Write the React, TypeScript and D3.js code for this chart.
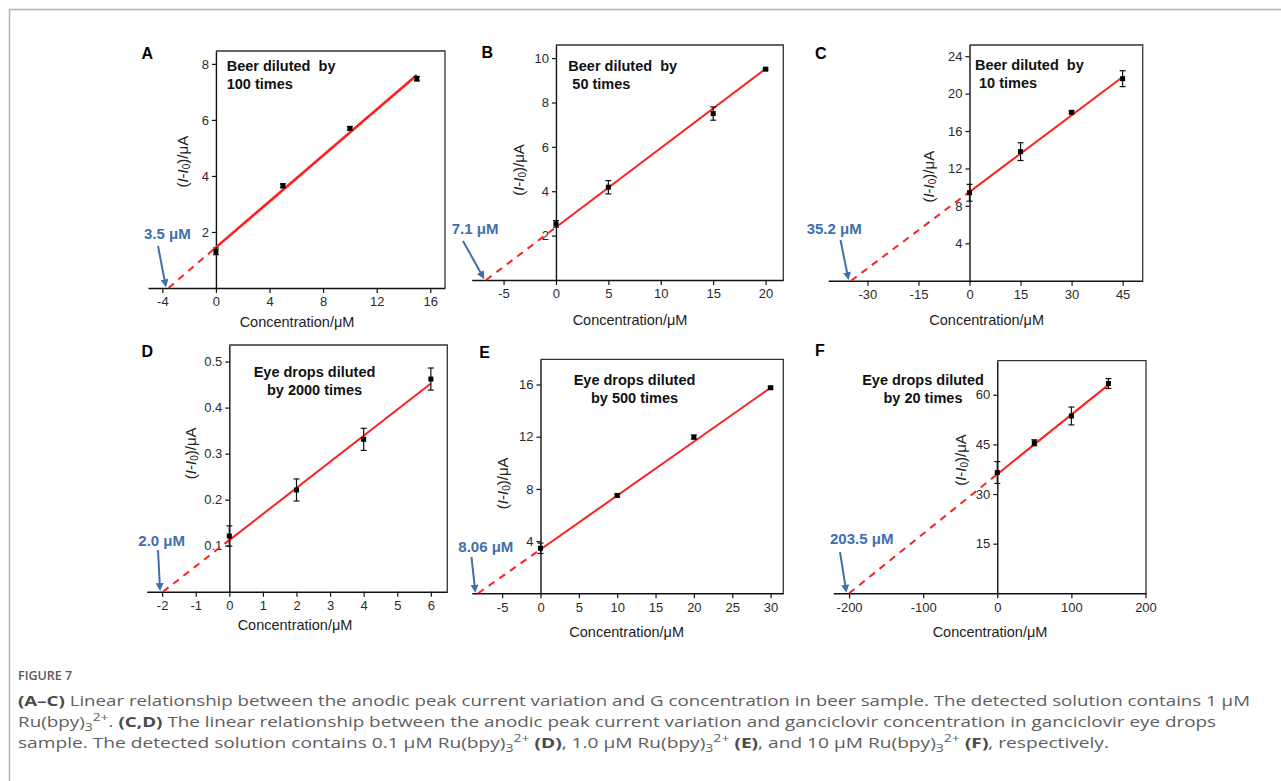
import React, { useEffect, useRef } from 'react';
import * as d3 from 'd3';

// (A) beer diluted 100 times
const concA = [0, 5, 10, 15];
const currA = [1.31, 3.65, 5.7, 7.47];
const errA = [0.12, 0.07, 0.06, 0.08];
// (B) beer diluted 50 times
const concB = [0, 5, 15, 20];
const currB = [2.53, 4.18, 7.5, 9.5];
const errB = [0.15, 0.3, 0.3, 0.05];
// (C) beer diluted 10 times
const concC = [0, 15, 30, 45];
const currC = [9.4, 13.8, 18.0, 21.6];
const errC = [0.9, 0.95, 0.15, 0.85];
// (D) eye drops diluted 2000 times
const concD = [0, 2, 4, 6];
const currD = [0.121, 0.221, 0.331, 0.462];
const errD = [0.022, 0.024, 0.024, 0.024];
// (E) eye drops diluted 500 times
const concE = [0, 10, 20, 30];
const currE = [3.45, 7.5, 11.97, 15.75];
const errE = [0.4, 0.1, 0.15, 0.1];
// (F) eye drops diluted 20 times
const concF = [0, 50, 100, 150];
const currF = [36.5, 45.5, 53.6, 63.4];
const errF = [3.3, 0.9, 2.7, 1.5];

// fitted lines: intercept and slope, extrapolated to the x axis
const fitIntercepts = [1.45, 2.38, 9.5, 0.112, 3.36, 36];
const fitSlopes = [0.41, 0.357, 0.273, 0.0567, 0.413, 0.18];
const detectLabels = ['3.5 μM', '7.1 μM', '35.2 μM', '2.0 μM', '8.06 μM', '203.5 μM'];
const panelLetters = ['A', 'B', 'C', 'D', 'E', 'F'];
const noteLines = [
  ['Beer diluted  by', '100 times'],
  ['Beer diluted  by', ' 50 times'],
  ['Beer diluted  by', ' 10 times'],
  ['Eye drops diluted', 'by 2000 times'],
  ['Eye drops diluted', 'by 500 times'],
  ['Eye drops diluted', 'by 20 times'],
];

const xTicksA = [-4, 0, 4, 8, 12, 16];
const yTicksA = [2, 4, 6, 8];
const xTicksB = [-5, 0, 5, 10, 15, 20];
const yTicksB = [2, 4, 6, 8, 10];
const xTicksC = [-30, -15, 0, 15, 30, 45];
const yTicksC = [4, 8, 12, 16, 20, 24];
const xTicksD = [-2, -1, 0, 1, 2, 3, 4, 5, 6];
const yTicksD = [0.1, 0.2, 0.3, 0.4, 0.5];
const xTicksE = [-5, 0, 5, 10, 15, 20, 25, 30];
const yTicksE = [4, 8, 12, 16];
const xTicksF = [-200, -100, 0, 100, 200];
const yTicksF = [15, 30, 45, 60];

const captionLines = [
  [{ t: '(A–C)', b: true }, { t: ' Linear relationship between the anodic peak current variation and G concentration in beer sample. The detected solution contains 1 μM' }],
  [{ t: 'Ru(bpy)' }, { t: '3', sub: true }, { t: '2+', sup: true }, { t: '. ' }, { t: '(C,D)', b: true }, { t: ' The linear relationship between the anodic peak current variation and ganciclovir concentration in ganciclovir eye drops' }],
  [{ t: 'sample. The detected solution contains 0.1 μM Ru(bpy)' }, { t: '3', sub: true }, { t: '2+', sup: true }, { t: ' ' }, { t: '(D)', b: true },
    { t: ', 1.0 μM Ru(bpy)' }, { t: '3', sub: true }, { t: '2+', sup: true }, { t: ' ' }, { t: '(E)', b: true },
    { t: ', and 10 μM Ru(bpy)' }, { t: '3', sub: true }, { t: '2+', sup: true }, { t: ' ' }, { t: '(F)', b: true }, { t: ', respectively.' }],
];

const panels = [
  { conc: concA, curr: currA, err: errA, xTicks: xTicksA, yTicks: yTicksA, xDomain: [-5.07, 17.1], yDomain: [0, 8.46],
    box: { left: 148, right: 445, top: 51, bottom: 288 }, letter: [141.5, 59], note: [226.7, 71, 'start'],
    label: [144, 239], arrowFrom: [158, 246], xTitle: [297, 327], yTitle: [181.7, 161.7], lw: 2.6 },
  { conc: concB, curr: currB, err: errB, xTicks: xTicksB, yTicks: yTicksB, xDomain: [-8.04, 21.69], yDomain: [0, 10.59],
    box: { left: 471.7, right: 783.3, top: 45, bottom: 280 }, letter: [481.5, 58], note: [568.3, 71, 'start'],
    label: [451.7, 234], arrowFrom: [463, 241], xTitle: [630, 325], yTitle: [518.3, 170], lw: 2 },
  { conc: concC, curr: currC, err: errC, xTicks: xTicksC, yTicks: yTicksC, xDomain: [-41.5, 50.9], yDomain: [0, 25.2],
    box: { left: 828.3, right: 1142.7, top: 45, bottom: 280.7 }, letter: [815, 59], note: [975, 69.5, 'start'],
    label: [806.7, 234], arrowFrom: [840.5, 240], xTitle: [986.7, 325], yTitle: [928.3, 176.7], lw: 2 },
  { conc: concD, curr: currD, err: errD, xTicks: xTicksD, yTicks: yTicksD, xDomain: [-2.46, 6.49], yDomain: [0, 0.536],
    box: { left: 146.7, right: 447.3, top: 345, bottom: 591.7 }, letter: [141.5, 357], note: [314.5, 377, 'middle'],
    label: [138.3, 545.5], arrowFrom: [158, 550], xTitle: [295, 630], yTitle: [190, 453.3], lw: 2 },
  { conc: concE, curr: currE, err: errE, xTicks: xTicksE, yTicks: yTicksE, xDomain: [-8.97, 31.66], yDomain: [0, 17.93],
    box: { left: 471.7, right: 783.3, top: 359.3, bottom: 593.3 }, letter: [479.3, 358], note: [634.5, 384.5, 'middle'],
    label: [458.3, 552], arrowFrom: [471.5, 557], xTitle: [626.7, 637], yTitle: [501.7, 483.3], lw: 2 },
  { conc: concF, curr: currF, err: errF, xTicks: xTicksF, yTicks: yTicksF, xDomain: [-221.3, 200.7], yDomain: [0, 70.3],
    box: { left: 833.3, right: 1146, top: 360.7, bottom: 593.3 }, letter: [815, 356], note: [923, 384.5, 'middle'],
    label: [830, 544], arrowFrom: [840, 552], xTitle: [990, 637], yTitle: [960, 460], lw: 2 },
];

const FONT = '"Liberation Sans", Arial, sans-serif';
const BLUE = '#3f6fad';
const RED = '#ff1f1f';

const App = () => {
  const svgRef = useRef<SVGSVGElement>(null);

  useEffect(() => {
    const W = 1281;
    const H = 781;
    const svg = d3.select(svgRef.current);
    svg.selectAll('*').remove();
    svg.attr('width', W).attr('height', H);

    svg.append('rect').attr('width', W).attr('height', H).attr('fill', '#fff');
    svg.append('path')
      .attr('d', `M9.5,${H} V9.5 H${W}`)
      .attr('fill', 'none')
      .attr('stroke', '#b3b3b3')
      .attr('stroke-width', 1.5);

    svg.append('defs').append('marker')
      .attr('id', 'arrowHead')
      .attr('viewBox', '0 0 10 10')
      .attr('refX', 7).attr('refY', 5)
      .attr('markerWidth', 4).attr('markerHeight', 4)
      .attr('orient', 'auto')
      .append('path').attr('d', 'M0,0 L10,5 L0,10 z').attr('fill', BLUE);

    panels.forEach((p, i) => {
      const g = svg.append('g');
      const x = d3.scaleLinear().domain(p.xDomain).range([p.box.left, p.box.right]);
      const y = d3.scaleLinear().domain(p.yDomain).range([p.box.bottom, p.box.top]);
      const x0 = x(0);

      // top + right frame
      g.append('path')
        .attr('d', `M${x0},${p.box.top} H${p.box.right} V${p.box.bottom}`)
        .attr('fill', 'none')
        .attr('stroke', '#333')
        .attr('stroke-width', 1.3);

      const xAxis = g.append('g')
        .attr('transform', `translate(0,${p.box.bottom})`)
        .call(d3.axisBottom(x).tickValues(p.xTicks).tickSize(5).tickPadding(4).tickSizeOuter(0).tickFormat(d => String(d)));
      const yAxis = g.append('g')
        .attr('transform', `translate(${x0},0)`)
        .call(d3.axisLeft(y).tickValues(p.yTicks).tickSize(4).tickPadding(3).tickSizeOuter(0).tickFormat(d => String(d)));

      [xAxis, yAxis].forEach(a => {
        a.attr('font-family', FONT).attr('font-size', 13);
        a.select('.domain').attr('stroke', '#111').attr('stroke-width', 1.4);
        a.selectAll('.tick line').attr('stroke', '#111').attr('stroke-width', 1.2);
        a.selectAll('.tick text').attr('fill', '#2a2a2a');
      });

      // fitted line, dashed extrapolation down to the x axis
      const b = fitIntercepts[i];
      const m = fitSlopes[i];
      const xInt = -b / m;
      const last = p.conc[p.conc.length - 1];
      const line = d3.line<number[]>().x(d => x(d[0])).y(d => y(d[1]));
      g.append('path')
        .attr('d', line([[xInt, 0], [0, b]]))
        .attr('fill', 'none').attr('stroke', RED).attr('stroke-width', 2)
        .attr('stroke-dasharray', '7,6');
      g.append('path')
        .attr('d', line([[0, b], [last, b + m * last]]))
        .attr('fill', 'none').attr('stroke', RED).attr('stroke-width', p.lw);

      // error bars + square markers
      const pts = p.conc.map((c, k) => ({ c, v: p.curr[k], e: p.err[k] }));
      const eb = g.selectAll('.eb').data(pts).enter().append('g').attr('class', 'eb');
      eb.append('line')
        .attr('x1', d => x(d.c)).attr('x2', d => x(d.c))
        .attr('y1', d => y(d.v - d.e)).attr('y2', d => y(d.v + d.e))
        .attr('stroke', '#111').attr('stroke-width', 1.2);
      [-1, 1].forEach(s => {
        eb.append('line')
          .attr('x1', d => x(d.c) - 3).attr('x2', d => x(d.c) + 3)
          .attr('y1', d => y(d.v + s * d.e)).attr('y2', d => y(d.v + s * d.e))
          .attr('stroke', '#111').attr('stroke-width', 1.2);
      });
      eb.append('rect')
        .attr('x', d => x(d.c) - 2.5).attr('y', d => y(d.v) - 2.5)
        .attr('width', 5).attr('height', 5)
        .attr('fill', '#000');

      // panel letter
      g.append('text')
        .attr('x', p.letter[0]).attr('y', p.letter[1])
        .attr('font-family', FONT).attr('font-weight', 'bold').attr('font-size', 16)
        .attr('fill', '#000')
        .text(panelLetters[i]);

      // note text
      const note = g.append('text')
        .attr('font-family', FONT).attr('font-weight', 'bold').attr('font-size', 14.5)
        .attr('fill', '#111')
        .attr('text-anchor', p.note[2] as string)
        .style('white-space', 'pre');
      noteLines[i].forEach((t, k) => {
        note.append('tspan').attr('x', p.note[0]).attr('y', (p.note[1] as number) + k * 18).text(t);
      });

      // detection label and arrow
      g.append('text')
        .attr('x', p.label[0]).attr('y', p.label[1])
        .attr('font-family', FONT).attr('font-weight', 'bold').attr('font-size', 15)
        .attr('fill', BLUE)
        .text(detectLabels[i]);
      g.append('line')
        .attr('x1', p.arrowFrom[0]).attr('y1', p.arrowFrom[1])
        .attr('x2', x(xInt) - 3).attr('y2', y(0) - 3)
        .attr('stroke', BLUE).attr('stroke-width', 2)
        .attr('marker-end', 'url(#arrowHead)');

      // axis titles
      g.append('text')
        .attr('x', p.xTitle[0]).attr('y', p.xTitle[1])
        .attr('text-anchor', 'middle')
        .attr('font-family', FONT).attr('font-size', 14.5)
        .attr('fill', '#222')
        .text('Concentration/μM');
      const yt = g.append('text')
        .attr('transform', `translate(${p.yTitle[0]},${p.yTitle[1]}) rotate(-90)`)
        .attr('text-anchor', 'middle')
        .attr('dominant-baseline', 'central')
        .attr('font-family', FONT).attr('font-size', 15)
        .attr('fill', '#222');
      yt.append('tspan').text('(');
      yt.append('tspan').attr('font-style', 'italic').text('I');
      yt.append('tspan').text('-');
      yt.append('tspan').attr('font-style', 'italic').text('I');
      yt.append('tspan').attr('font-size', 10).attr('dy', 4).text('0');
      yt.append('tspan').attr('dy', -4).text(')/μA');
    });

    // caption
    svg.append('text')
      .attr('x', 18).attr('y', 680)
      .attr('font-family', '"Open Sans", sans-serif').attr('font-size', 12.5).attr('font-weight', 600)
      .attr('fill', '#5a5a5a')
      .text('FIGURE 7');

    const capWidths = [1232, 1198, 1091];
    captionLines.forEach((segs, li) => {
      const t = svg.append('text')
        .attr('x', 18).attr('y', 706 + li * 21)
        .attr('font-family', '"Open Sans", sans-serif').attr('font-size', 15)
        .attr('fill', '#5e5e5e')
        .attr('textLength', capWidths[li])
        .attr('lengthAdjust', 'spacingAndGlyphs')
        .style('white-space', 'pre');
      let shift = 0;
      segs.forEach((s: any) => {
        const target = s.sub ? 4 : s.sup ? -6 : 0;
        const ts = t.append('tspan').attr('dy', target - shift).text(s.t);
        shift = target;
        if (s.b) ts.attr('font-weight', 'bold').attr('fill', '#4a4a4a');
        if (s.sub || s.sup) ts.attr('font-size', 11);
      });
    });
  }, []);

  return (
    <svg ref={svgRef} style={{ position: 'absolute', left: 0, top: 0, display: 'block' }} />
  );
};

export default App;
